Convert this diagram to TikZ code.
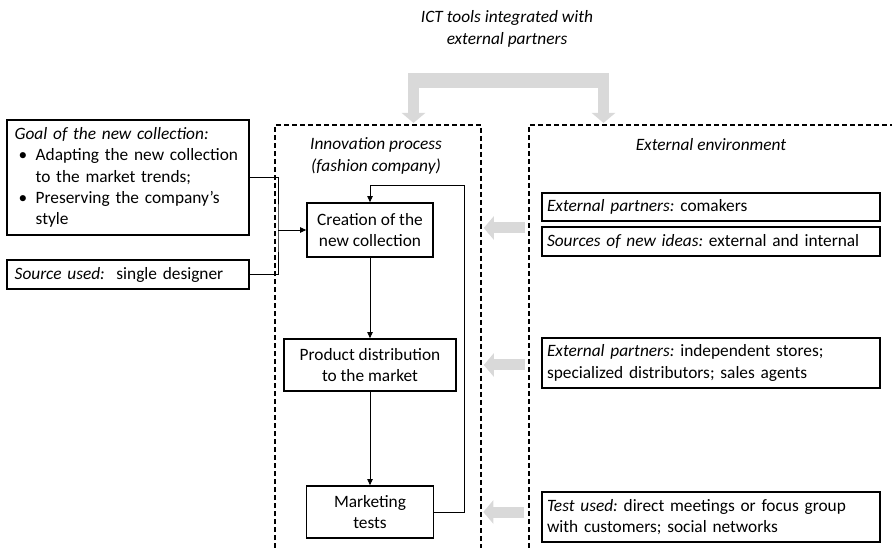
\documentclass[tikz,border=0pt]{standalone}
\usepackage{fontspec}
\setmainfont{Carlito}
\usetikzlibrary{arrows.meta}
\definecolor{arrowgrey}{HTML}{D9D9D9}
\newcommand{\procstep}[5]{\node[procbox, minimum width=#3, minimum height=#4] (#1) at (370,#2) {#5};}
\newcommand{\extbox}[4]{\node[extbox, minimum height=#3] (#1) at (711,#2) {#4};}
\newcommand{\bitem}{\par\hangindent=15.75pt\hangafter=1\noindent\makebox[15.75pt][l]{\hspace{3pt}\textbullet}}
\tikzset{
	every node/.style={font=\fontsize{13}{16}\selectfont\frenchspacing},
	procbox/.style={draw, line width=1.2pt, align=center, inner sep=0pt},
	extbox/.style={draw, line width=1.2pt, align=left, text width=246pt, inner xsep=3.75pt, inner ysep=0pt},
	leftbox/.style={draw, line width=1.2pt, align=left, text width=170pt, inner xsep=5.75pt, inner ysep=0pt},
	flow/.style={-{Triangle[length=4.5pt,width=4pt]}, line width=0.6pt},
	greyflow/.style={arrowgrey, line width=8.25pt, -{Triangle[length=7.5pt,width=17.25pt]}},
	border/.style={dash pattern=on 3.5pt off 2.5pt, line width=0.9pt}
}

\begin{document}
\begin{tikzpicture}[x=0.75pt, y=-0.75pt]
	\useasboundingbox (0,0) rectangle (892,548);

	\node[align=center, font=\fontsize{13}{17}\selectfont\itshape] (ict) at (507,29) {ICT tools integrated with\\external partners};
	\fill[arrowgrey] (408,73) rectangle (609,88);
	\draw[greyflow] (413.5,86) -- (413.5,123);
	\draw[greyflow] (603.5,86) -- (603.5,123);

	\draw[border] (275,548) |- (481,125) -- (481,548);
	\draw[border] (529,548) |- (892,125);
	\node[align=center, font=\fontsize{13}{16}\selectfont\itshape] (innov) at (376,156) {Innovation process\\(fashion company)};
	\node[font=\fontsize{13}{16}\selectfont\itshape] (extenv) at (711,145) {External environment};

	\node[leftbox, minimum height=86.25pt] (goal) at (128,177.5) {\textit{Goal of the new collection:}
		\bitem Adapting the new collection to the market trends;
		\bitem Preserving the company's style\par};
	\node[leftbox, minimum height=21.75pt] (source) at (128,274.5) {\textit{Source used:}\ \ single designer};

	\procstep{create}{230}{94.5pt}{40.5pt}{Creation of the\\new collection}
	\procstep{distrib}{365}{129pt}{39pt}{Product distribution\\to the market}
	\procstep{mtest}{512}{95.25pt}{39pt}{Marketing\\tests}

	\extbox{comakers}{207}{21pt}{\textit{External partners:} comakers}
	\extbox{ideas}{241.5}{21.75pt}{\textit{Sources of new ideas:} external and internal}
	\extbox{stores}{363}{37.5pt}{\textit{External partners:} independent stores;\\specialized distributors; sales agents}
	\extbox{tests}{517}{37.5pt}{\textit{Test used:} direct meetings or focus group\\with customers; social networks}

	\coordinate (jn) at (278,230);
	\draw[line width=0.6pt] (goal.east) -| (jn) |- (source.east);
	\draw[flow] (jn) -- (create.west);
	\draw[flow] (create) -- (distrib);
	\draw[flow] (distrib) -- (mtest);
	\draw[flow] (mtest.east) -| (464,185) -| (create.north);

	\draw[greyflow] (create.east) ++(91,-2) -- ++(-41,0);
	\draw[greyflow] (distrib.east) ++(68,0) -- ++(-41,0);
	\draw[greyflow] (mtest.east) ++(90,0) -- ++(-41,0);
\end{tikzpicture}
\end{document}
